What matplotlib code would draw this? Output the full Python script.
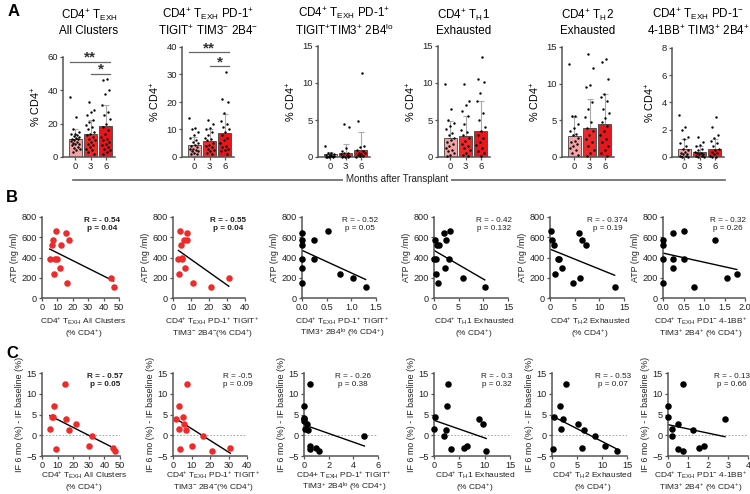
import numpy as np
import matplotlib
matplotlib.use("Agg")
from matplotlib import pyplot as plt
from matplotlib.lines import Line2D

plt.rcParams['font.family'] = ['Liberation Sans', 'DejaVu Sans']
plt.rcParams['mathtext.fontset'] = 'custom'
plt.rcParams['mathtext.rm'] = 'Liberation Sans'
plt.rcParams['mathtext.it'] = 'Liberation Sans:italic'
plt.rcParams['mathtext.bf'] = 'Liberation Sans:bold'

# ---- panel A: bar charts (months 0, 3, 6) ----
months = ['0', '3', '6']
bar_titles = [
    'CD4$^{+}$ T$_{\\mathrm{EXH}}$\nAll Clusters',
    'CD4$^{+}$ T$_{\\mathrm{EXH}}$ PD-1$^{+}$\nTIGIT$^{+}$ TIM3$^{-}$ 2B4$^{-}$',
    'CD4$^{+}$ T$_{\\mathrm{EXH}}$ PD-1$^{+}$\nTIGIT$^{+}$TIM3$^{+}$ 2B4$^{\\mathrm{lo}}$',
    'CD4$^{+}$ T$_{\\mathrm{H}}$1\nExhausted',
    'CD4$^{+}$ T$_{\\mathrm{H}}$2\nExhausted',
    'CD4$^{+}$ T$_{\\mathrm{EXH}}$ PD-1$^{-}$\n4-1BB$^{+}$ TIM3$^{+}$ 2B4$^{+}$',
]
bar_means = [[10.5, 13.5, 18.5], [4.5, 5.8, 8.7], [0.4, 0.6, 1.0],
             [2.5, 2.8, 3.5], [2.9, 3.9, 4.5], [0.6, 0.4, 0.6]]
bar_sds = [[6.5, 8.5, 12.5], [2.8, 4.2, 6.8], [0.3, 1.1, 2.4],
           [2.4, 2.7, 4.1], [2.6, 4.0, 4.1], [0.7, 0.4, 0.7]]
bar_ymax = [60, 40, 15, 15, 15, 8]
bar_yticks = [[0, 20, 40, 60], [0, 10, 20, 30, 40], [0, 5, 10, 15],
              [0, 5, 10, 15], [0, 5, 10, 15], [0, 2, 4, 6, 8]]

pts_p1 = [[36, 24, 17, 15, 14, 13.5, 13, 12.5, 12, 11.5, 11, 10.5, 10, 9.5, 9, 8.5, 8, 7.5, 7, 6, 5.5, 5, 4, 3],
          [33, 28, 27, 25, 22, 21, 19, 18, 16.5, 15, 14, 13, 12, 11, 10, 9, 8, 7, 6, 5, 4, 3, 2],
          [47, 46, 40, 38, 31, 27, 25, 22.5, 20, 18, 16, 14, 12, 11, 10, 9, 8, 7, 6, 5, 4, 3, 2]]
pts_p2 = [[14, 10.5, 10, 9, 8, 7, 6, 5.5, 5, 4.5, 4, 3.5, 3, 3, 2.5, 2, 2, 1.5, 1, 1],
          [13.5, 12, 10.5, 10, 9, 8, 7, 6.5, 6, 5, 4.5, 4, 3.5, 3, 2.5, 2, 1.5, 1],
          [31, 21, 20, 16, 13, 12, 11, 10, 9, 8, 7, 6, 5, 4, 3.5, 3, 2.5, 2, 1]]
pts_p3 = [[1.5, 0.6, 0.5, 0.4, 0.3, 0.3, 0.2, 0.2, 0.1, 0.1, 0, 0, 0, 0],
          [4.4, 4.0, 1.2, 0.8, 0.6, 0.5, 0.4, 0.3, 0.2, 0.1, 0, 0, 0],
          [11.4, 4.9, 1.5, 1.3, 1.0, 0.8, 0.6, 0.5, 0.4, 0.3, 0.2, 0.1, 0]]
pts_p4 = [[9.9, 6.5, 5.0, 4.6, 4.2, 3.8, 3.3, 3.0, 2.6, 2.3, 2.0, 1.8, 1.5, 1.2, 1.0, 0.8, 0.5, 0.3, 0.1],
          [9.9, 7.5, 7.0, 6.2, 5.5, 4.5, 3.7, 3.4, 3.0, 2.6, 2.2, 1.8, 1.5, 1.2, 0.9, 0.6, 0.3, 0.1],
          [13.5, 10.5, 10.1, 8.6, 7.5, 6.0, 5.0, 4.0, 3.5, 3.0, 2.5, 2.0, 1.6, 1.2, 0.8, 0.5, 0.2]]
pts_p5 = [[12.7, 5.6, 5.6, 4.5, 4.0, 3.5, 3.2, 3.0, 2.6, 2.2, 2.0, 1.8, 1.5, 1.2, 0.9, 0.6, 0.3],
          [14.0, 12.2, 9.8, 9.5, 7.5, 6.5, 5.5, 4.8, 4.0, 3.5, 3.0, 2.5, 2.0, 1.5, 1.0, 0.6, 0.2],
          [13.3, 13.0, 10.6, 8.6, 8.2, 7.6, 6.5, 6.0, 5.3, 4.8, 4.2, 3.6, 3.0, 2.5, 2.0, 1.5, 1.0, 0.5, 0.2]]
pts_p6 = [[3.1, 2.2, 2.0, 1.5, 1.3, 1.0, 0.8, 0.6, 0.5, 0.4, 0.3, 0.2, 0.2, 0.1, 0.1, 0, 0],
          [1.5, 1.1, 0.9, 0.8, 0.6, 0.5, 0.4, 0.3, 0.3, 0.2, 0.2, 0.1, 0.1, 0, 0],
          [2.9, 2.2, 1.6, 1.4, 1.2, 1.0, 0.8, 0.6, 0.5, 0.4, 0.3, 0.2, 0.1, 0, 0]]
bar_points = [pts_p1, pts_p2, pts_p3, pts_p4, pts_p5, pts_p6]

# significance brackets: (panel, x0, x1, y, label)
sig_marks = [(0, -0.33, 2.27, 57, '**'), (0, 1.05, 2.27, 50, '*'),
             (1, -0.33, 2.27, 38, '**'), (1, 1.05, 2.27, 33, '*')]

# ---- panels B and C: scatter ----
atp_x = [
    [5, 6.5, 7, 7.5, 8.5, 9, 10, 11.5, 12.5, 15.5, 16.5, 17.5, 45, 46.5],
    [3, 3.5, 4, 4.5, 4.8, 5, 6, 6.5, 7.5, 8, 11, 21, 31],
    [0, 0, 0, 0, 0, 0, 0.25, 0.25, 0.52, 0.77, 1.04, 1.29],
    [0.1, 0.3, 0.4, 0.5, 0.6, 0.8, 1.0, 2.0, 2.3, 2.5, 3.1, 3.3, 5.9, 10.3],
    [0.2, 0.4, 0.9, 1.0, 1.7, 1.9, 2.5, 4.6, 5.9, 6.1, 6.5, 7.2, 13.1],
    [0, 0, 0, 0, 0.25, 0.25, 0.25, 0.5, 0.5, 0.75, 1.27, 1.55, 1.8],
]
atp_y = [
    [390, 520, 575, 235, 390, 660, 385, 295, 520, 645, 150, 570, 200, 105],
    [390, 235, 660, 520, 390, 400, 575, 295, 570, 645, 150, 105, 200],
    [645, 575, 520, 390, 295, 150, 570, 385, 660, 235, 200, 105],
    [390, 575, 390, 235, 520, 150, 520, 645, 295, 570, 390, 660, 200, 105],
    [660, 575, 520, 235, 385, 390, 295, 150, 645, 200, 570, 520, 105],
    [575, 520, 390, 150, 645, 390, 295, 660, 390, 105, 570, 200, 235],
]
atp_stats = [('- 0.54', '0.04'), ('- 0.55', '0.04'), ('- 0.52', '0.05'),
             ('- 0.42', '0.132'), ('- 0.374', '0.19'), ('- 0.32', '0.26')]

if_x = [
    [5, 6.5, 7, 8, 9, 15, 15.5, 17.5, 22, 30, 32, 45.5, 46.5],
    [1.5, 3, 3.5, 4, 5.5, 6, 7, 7.5, 10.5, 16, 21, 31],
    [0, 0, 0, 0, 0.05, 0.25, 0.3, 0.45, 0.5, 0.5, 1.0, 1.2, 4.9],
    [0, 0.2, 2.0, 2.3, 2.5, 2.8, 3.3, 5.9, 6.5, 8.8, 9.7, 10.3],
    [0.2, 0.3, 1.6, 1.7, 2.1, 2.7, 5.1, 6.0, 6.4, 8.5, 10.5, 13.0],
    [0, 0, 0.2, 0.2, 0.5, 0.5, 0.75, 0.75, 1.25, 1.55, 1.8, 2.85],
]
if_y = [
    [1.6, 4.4, 4.4, 7.1, -3.2, 12.3, 3.8, 1.2, 2.7, -2.7, -0.2, -3.1, -3.8],
    [3.9, 1.6, 7.1, -3.2, 4.4, 2.7, 1.2, 12.3, -2.7, -0.2, -3.8, -3.1],
    [7.1, 4.2, 3.8, 3.5, 1.6, 2.6, 1.2, 12.3, -2.7, -3.2, -3.1, -3.8, -0.3],
    [1.6, 4.4, -0.2, 1.2, 7.1, 12.3, -3.2, -3.1, -2.7, 3.9, 2.7, -3.8],
    [-3.2, 4.4, 7.1, 1.6, 3.8, 12.3, 2.7, -3.1, 1.2, -0.2, -2.7, -3.7],
    [7.1, 4.4, 1.6, -0.2, 2.7, -3.2, 12.3, -3.8, 1.2, -3.1, -2.7, 3.8],
]
if_stats = [('- 0.57', '0.05'), ('-0.5', '0.09'), ('- 0.26', '0.38'),
            ('- 0.3', '0.32'), ('- 0.53', '0.07'), ('- 0.13', '0.66')]

atp_xticks = [[0, 10, 20, 30, 40, 50], [0, 10, 20, 30, 40], [0.0, 0.5, 1.0, 1.5],
              [0, 5, 10, 15], [0, 5, 10, 15], [0.0, 0.5, 1.0, 1.5, 2.0]]
if_xticks = [[0, 10, 20, 30, 40, 50], [0, 10, 20, 30, 40], [0, 2, 4, 6],
             [0, 5, 10, 15], [0, 5, 10, 15], [0, 1, 2, 3, 4]]
sp = 'CD4$^{+}$ '
atp_xlabels = [
    sp + 'T$_{\\mathrm{EXH}}$ All Clusters\n(% CD4$^{+}$)',
    sp + 'T$_{\\mathrm{EXH}}$ PD-1$^{+}$ TIGIT$^{+}$\nTIM3$^{-}$ 2B4$^{-}$(% CD4$^{+}$)',
    sp + 'T$_{\\mathrm{EXH}}$ PD-1$^{+}$ TIGIT$^{+}$\nTIM3$^{+}$ 2B4$^{\\mathrm{lo}}$ (% CD4$^{+}$)',
    sp + 'T$_{\\mathrm{H}}$1 Exhausted\n(% CD4$^{+}$)',
    sp + 'T$_{\\mathrm{H}}$2 Exhausted\n(% CD4$^{+}$)',
    sp + 'T$_{\\mathrm{EXH}}$ PD1$^{-}$ 4-1BB$^{+}$\nTIM3$^{+}$ 2B4$^{+}$ (% CD4$^{+}$)',
]
if_xlabels = list(atp_xlabels)
if_xlabels[2] = 'CD4+ T$_{\\mathrm{EXH}}$ PD-1$^{+}$ TIGIT$^{+}$\nTIM3$^{+}$ 2B4$^{\\mathrm{lo}}$ (% CD4$^{+}$)'

RED = '#ee2a2a'
bar_colors = ['#f4a2a4', '#ec2a2c', '#e8161c']
AXC = '#555555'
W, H = 750, 494

fig = plt.figure(figsize=(7.5, 4.94), dpi=100)


def px_axes(left, right, top, bottom):
    return fig.add_axes([left / W, 1 - bottom / H, (right - left) / W, (bottom - top) / H])


def style(ax, fs=6.6):
    for s in ['top', 'right']:
        ax.spines[s].set_visible(False)
    for s in ['left', 'bottom']:
        ax.spines[s].set_color(AXC)
        ax.spines[s].set_linewidth(1.1)
    ax.tick_params(direction='out', length=2.5, width=0.9, color=AXC,
                   labelsize=fs, pad=1.2, labelcolor='#222222')


# ---- A ----
a_left = [63, 182, 318, 438, 562, 672]
a_top = [57, 47, 46, 46, 47, 48]
for i in range(6):
    ax = px_axes(a_left[i], a_left[i] + 52, a_top[i], 157)
    style(ax, 6.8)
    xs = np.arange(3)
    ax.bar(xs, bar_means[i], width=0.85, color=bar_colors, edgecolor='#444444',
           linewidth=0.6, zorder=2)
    ax.errorbar(xs, bar_means[i], yerr=[[0, 0, 0], bar_sds[i]], fmt='none',
                ecolor='#aaaaaa', elinewidth=0.8, capsize=2, capthick=0.8, zorder=1)
    for g in range(3):
        vals = bar_points[i][g]
        offs = [((k * 0.618 + 0.3 * g) % 1 - 0.5) * 0.62 for k in range(len(vals))]
        ax.scatter(g + np.array(offs), vals, s=3, color='black', zorder=3,
                   linewidths=0, clip_on=False)
    ax.set_xlim(-0.8, 2.6)
    ax.set_ylim(0, bar_ymax[i])
    ax.set_yticks(bar_yticks[i])
    ax.set_xticks(xs)
    ax.set_xticklabels(months)
    ax.set_ylabel('% CD4$^{+}$', fontsize=7.8, labelpad=3)
    fig.text((a_left[i] + 26) / W, 1 - 22 / H, bar_titles[i], ha='center',
             va='center', fontsize=8.4, linespacing=1.15)
    for (p, x0, x1, y, lab) in sig_marks:
        if p == i:
            ax.plot([x0, x1], [y, y], color='#666666', lw=0.9, clip_on=False)
            ax.text((x0 + x1) / 2, y - 1.5 * bar_ymax[i] / 60, lab, ha='center',
                    va='bottom', fontsize=11, fontweight='bold', color='#333333')

# months line
fig.add_artist(Line2D([73 / W, 725 / W], [1 - 180 / H, 1 - 180 / H],
                      color='#666666', lw=1.2))
fig.text(397 / W, 1 - 179 / H, 'Months after Transplant', ha='center', va='center',
         fontsize=7, color='#222222',
         bbox=dict(facecolor='white', edgecolor='none', pad=2))


def scatter_panel(ax, x, y, color, stats, bold, xt, yt, ylim, xlabel, ylabel, sx, zero,
                  base1, shift):
    style(ax)
    x = np.array(x)
    y = np.array(y)
    if zero:
        ax.axhline(0, color='#999999', lw=0.6, ls=(0, (2, 2)), zorder=0)
    ax.scatter(x, y, s=22, color=color, linewidths=0, zorder=3, clip_on=False)
    k, b = np.polyfit(x, y, 1)
    xx = np.array([x.min(), x.max()])
    ax.plot(xx, k * xx + b, color='black', lw=1.0, zorder=2)
    ax.set_xlim(xt[0], xt[-1])
    ax.set_xticks(xt)
    ax.set_ylim(*ylim)
    ax.set_yticks(yt)
    pos = ax.get_position()
    cx = pos.x0 + pos.width / 2 + shift / W
    for j, line in enumerate(xlabel.split('\n')):
        fig.text(cx, 1 - (base1 + 11.5 * j) / H, line, ha='center', va='baseline',
                 fontsize=6.0, color='#222222')
    ax.set_ylabel(ylabel, fontsize=6.4, labelpad=1.5, color='#222222')
    ax.text(sx, 1.0, 'R = ' + stats[0] + '\np = ' + stats[1], transform=ax.transAxes,
            ha='center', va='top', fontsize=5.9, linespacing=1.1,
            fontweight='bold' if bold else 'normal', color='#222222')


b_lr = [(42, 119), (173, 245), (302, 376), (434, 508), (550, 624), (663, 745)]
c_lr = [(42, 120), (173, 247), (304, 378), (434, 510), (552, 627), (668, 748)]
b_sx = [0.78, 0.77, 0.78, 0.81, 0.78, 0.79]
c_sx = [0.81, 0.87, 0.66, 0.83, 0.81, 0.8]
lab_shift = [3, 3, 3, 3, 3, -3]
for i in range(6):
    ax = px_axes(b_lr[i][0], b_lr[i][1], 217, 298)
    col = RED if i < 2 else 'black'
    scatter_panel(ax, atp_x[i], atp_y[i], col, atp_stats[i], i < 2, atp_xticks[i],
                  [0, 200, 400, 600, 800], (0, 800), atp_xlabels[i], 'ATP (ng /ml)',
                  b_sx[i], False, 324, lab_shift[i])
    ax = px_axes(c_lr[i][0], c_lr[i][1], 373, 456)
    scatter_panel(ax, if_x[i], if_y[i], col, if_stats[i], i == 0, if_xticks[i],
                  [-5, 0, 5, 10, 15], (-5, 15), if_xlabels[i],
                  'IF 6 mo (%) - IF baseline (%)', c_sx[i], True, 478,
                  lab_shift[i] - 4 * (i == 5))

fig.text(8 / W, 1 - 12 / H, 'A', fontsize=12, fontweight='bold', va='center')
fig.text(6 / W, 1 - 198 / H, 'B', fontsize=12, fontweight='bold', va='center')
fig.text(6 / W, 1 - 353 / H, 'C', fontsize=12, fontweight='bold', va='center')

fig.savefig('out.png', dpi=100)
